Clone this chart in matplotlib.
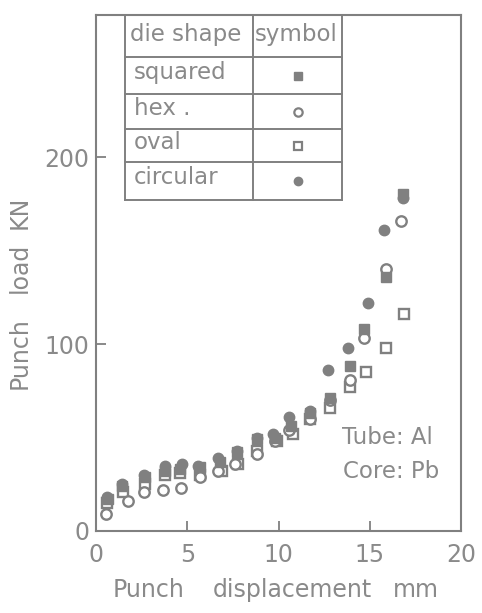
import matplotlib
matplotlib.use("Agg")
import matplotlib.pyplot as plt

# ---- data ----
hex_x = [0.55, 1.75, 2.65, 3.65, 4.65, 5.7, 6.7, 7.6, 8.8, 9.8, 10.6, 11.7, 12.8, 13.9, 14.7, 15.9, 16.7]
hex_y = [9, 16, 21, 22, 23, 29, 32, 36, 41, 48, 54, 60, 70, 81, 103, 140, 166]

sq_x = [0.65, 1.45, 2.7, 3.8, 4.6, 5.7, 6.8, 7.7, 8.8, 9.8, 10.7, 11.7, 12.8, 13.9, 14.7, 15.9, 16.8]
sq_y = [17, 24, 29, 32, 33, 34, 37, 42, 49, 50, 56, 63, 71, 88, 108, 136, 180]

oval_x = [0.6, 1.5, 2.7, 3.8, 4.6, 5.7, 6.9, 7.8, 8.8, 9.9, 10.8, 11.7, 12.8, 13.9, 14.8, 15.9, 16.9]
oval_y = [15, 21, 25, 30, 31, 30, 32, 36, 43, 48, 52, 60, 66, 77, 85, 98, 116]

circ_x = [0.6, 1.45, 2.65, 3.8, 4.7, 5.6, 6.7, 7.7, 8.8, 9.7, 10.6, 11.7, 12.7, 13.8, 14.9, 15.8, 16.8]
circ_y = [18, 25, 30, 35, 36, 35, 39, 43, 50, 52, 61, 64, 86, 98, 122, 161, 178]

shape_names = ["squared", "hex .", "oval", "circular"]
x_ticks = [0, 5, 10, 15, 20]
y_ticks = [0, 100, 200]

C = "#808080"
T = "#8a8a8a"
plt.rcParams['font.family'] = ['DejaVu Sans']

fig = plt.figure(figsize=(4.82, 6.13), dpi=100)
ax = fig.add_axes([96/482, 1-531/613, 365/482, 516/613])
ax.set_xlim(0, 19.85)
ax.set_ylim(0, 276)

ms = 7.5
ax.plot(oval_x, oval_y, 's', ms=ms-1, mfc='white', mec=C, mew=1.7, ls='none')
ax.plot(hex_x, hex_y, 'o', ms=ms, mfc='white', mec=C, mew=1.7, ls='none')
ax.plot(sq_x, sq_y, 's', ms=ms, mfc=C, mec=C, ls='none')
ax.plot(circ_x, circ_y, 'o', ms=ms, mfc=C, mec=C, ls='none')

for s in ax.spines.values():
    s.set_color(C)
    s.set_linewidth(1.5)
ax.set_xticks(x_ticks)
ax.set_yticks(y_ticks)
ax.tick_params(direction='in', length=7, width=1.3, color=C, labelcolor=T, labelsize=17)
ax.tick_params(axis='x', pad=9)
ax.tick_params(axis='y', pad=5)

# axis labels (hand-lettered, widely spaced words)
def figxy(px, py):
    return px / 482.0, 1 - py / 613.0

for word, px in (("Punch", 113), ("displacement", 213), ("mm", 393)):
    fig.text(*figxy(px, 590), word, color=T, fontsize=17, ha='left', va='center')
for word, py in (("Punch", 353), ("load", 268), ("KN", 212)):
    fig.text(*figxy(20, py), word, color=T, fontsize=17, ha='center', va='center', rotation=90)

# ---- table in upper-left ----
def fx(px):
    return (px - 96) / 365.0
def fy(py):
    return (531 - py) / 516.0

L, M, R = fx(125), fx(253), fx(342)
rows = [15, 57, 94, 129, 162, 200]
kw = dict(color=C, lw=1.4, transform=ax.transAxes, clip_on=False)
for py in rows:
    ax.plot([L, R], [fy(py), fy(py)], **kw)
for px in (L, M, R):
    ax.plot([px, px], [fy(rows[0]), fy(rows[-1])], **kw)

ax.text(fx(130), fy(35), "die shape", color=T, fontsize=16.5, va='center', ha='left', transform=ax.transAxes)
ax.text(fx(255), fy(35), "symbol", color=T, fontsize=16.5, va='center', ha='left', transform=ax.transAxes)
for i, name in enumerate(shape_names):
    yc = (rows[i+1] + rows[i+2]) / 2
    ax.text(fx(134), fy(yc - 3), name, color=T, fontsize=16.5, va='center', ha='left', transform=ax.transAxes)
sym_x = fx(298)
styles = [dict(marker='s', mfc=C, mec=C), dict(marker='o', mfc='white', mec=C, mew=1.6),
          dict(marker='s', mfc='white', mec=C, mew=1.6), dict(marker='o', mfc=C, mec=C)]
for i, st in enumerate(styles):
    yc = (rows[i+1] + rows[i+2]) / 2
    ax.plot([sym_x], [fy(yc)], ls='none', ms=6, transform=ax.transAxes, clip_on=False, **st)

ax.text(fx(342), fy(438), "Tube: Al", color=T, fontsize=16.5, va='center', ha='left', transform=ax.transAxes)
ax.text(fx(343), fy(471), "Core: Pb", color=T, fontsize=16.5, va='center', ha='left', transform=ax.transAxes)

fig.savefig("out.png", dpi=100)
